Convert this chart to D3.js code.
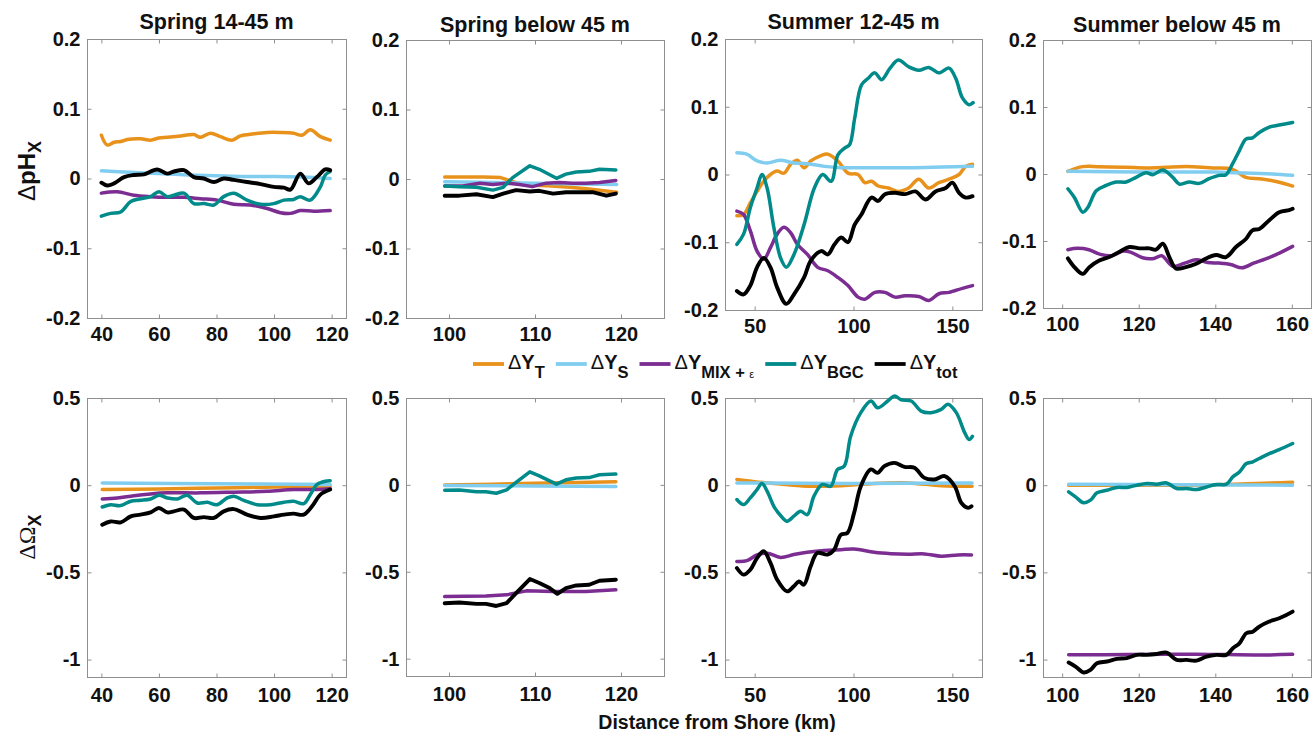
<!DOCTYPE html>
<html>
<head>
<meta charset="utf-8">
<script src="https://cdn.jsdelivr.net/npm/d3@7"></script>
<style>
  html, body { margin: 0; padding: 0; background: #fff; }
  svg { display: block; }
  text { font-family: "Liberation Sans", Arial, Helvetica, sans-serif; }
</style>
</head>
<body>
<svg id="chart" width="1313" height="732"></svg>
<script>
// ---------------- DATA ----------------
const panelTitles = ["Spring 14-45 m", "Spring below 45 m", "Summer 12-45 m", "Summer below 45 m"];
const seriesNames = ["T", "S", "MIX + \u03B5", "BGC", "tot"];
const xTicksA = [40, 60, 80, 100, 120];
const xTicksB = [100, 110, 120];
const xTicksC = [50, 100, 150];
const xTicksD = [100, 120, 140, 160];
const yTicksPH = [-0.2, -0.1, 0, 0.1, 0.2];
const yTickLabelsPH = ["-0.2", "-0.1", "0", "0.1", "0.2"];
const yTicksOM = [-1, -0.5, 0, 0.5];
const yTickLabelsOM = ["-1", "-0.5", "0", "0.5"];
const xAxisTitle = "Distance from Shore (km)";

// Spring 14-45 m, pH
const sprShPH_T = [[40,0.062],[42,0.048],[44.4,0.052],[46.7,0.053],[49,0.056],[53.6,0.057],[57.1,0.055],[60,0.058],[62.9,0.059],[67.5,0.061],[72.1,0.063],[74.4,0.059],[77.9,0.065],[81.4,0.06],[85.4,0.055],[88.3,0.061],[93,0.064],[97.6,0.066],[102.2,0.066],[106.8,0.065],[109.7,0.062],[112.6,0.07],[116.1,0.06],[119.5,0.055]];
const sprShPH_S = [[40,0.011],[50,0.009],[60,0.007],[70,0.005],[80,0.004],[90,0.003],[100,0.003],[110,0.002],[119.5,0.0]];
const sprShPH_MIX = [[40,-0.021],[45.5,-0.019],[51.3,-0.024],[57.1,-0.026],[62.9,-0.027],[68.7,-0.027],[74.4,-0.029],[80.2,-0.031],[86,-0.037],[91.8,-0.038],[97.6,-0.043],[102.2,-0.049],[105.7,-0.05],[109.1,-0.046],[113.8,-0.047],[119.5,-0.046]];
const sprShPH_BGC = [[40,-0.054],[43.2,-0.05],[46.7,-0.048],[50.2,-0.033],[53.6,-0.029],[57.1,-0.026],[60,-0.019],[62.9,-0.026],[65.2,-0.024],[68.7,-0.021],[72.1,-0.036],[75.6,-0.036],[79.1,-0.038],[82.5,-0.026],[86,-0.021],[90.6,-0.031],[95.3,-0.037],[99.9,-0.036],[103.4,-0.031],[106.8,-0.03],[109.1,-0.026],[112.6,-0.031],[116.1,-0.012],[117.8,0.005],[119.5,0.01]];
const sprShPH_tot = [[40,-0.006],[42,-0.01],[44.4,-0.007],[47.9,0.002],[51.3,0.005],[54.8,0.006],[59.4,0.013],[62.9,0.007],[65.2,0.01],[68.7,0.012],[72.1,0.002],[75.6,0],[79.1,-0.005],[82.5,0],[86,-0.002],[90.6,-0.005],[95.3,-0.008],[99.9,-0.012],[103.4,-0.013],[105.7,-0.016],[109.1,0.007],[112,-0.007],[114.9,0.002],[117.8,0.013],[119.5,0.012]];

// Spring below 45 m, pH
const sprDpPH_T = [[99.5,0.003],[102,0.003],[104,0.003],[106,0.002],[107,-0.002],[108,-0.006],[110,-0.009],[112,-0.01],[114,-0.012],[116,-0.014],[118,-0.017],[119.5,-0.019]];
const sprDpPH_S = [[99.5,-0.004],[110,-0.006],[119.5,-0.008]];
const sprDpPH_MIX = [[99.5,-0.01],[101.6,-0.01],[103.6,-0.006],[105.1,-0.008],[106.7,-0.006],[108.2,-0.008],[109.7,-0.011],[111.3,-0.006],[112.8,-0.005],[114.4,-0.006],[115.9,-0.006],[117.5,-0.005],[119.4,-0.002]];
const sprDpPH_BGC = [[99.5,-0.01],[101.2,-0.011],[103.2,-0.012],[105.1,-0.016],[106.3,-0.012],[107.4,0.002],[109.4,0.019],[110.5,0.014],[112.5,0.001],[113.6,0.007],[114.8,0.01],[116.3,0.011],[117.5,0.014],[119.4,0.013]];
const sprDpPH_tot = [[99.5,-0.024],[101.2,-0.024],[103.2,-0.022],[105.1,-0.026],[106.3,-0.021],[107.8,-0.016],[109.4,-0.018],[110.5,-0.017],[112.1,-0.021],[113.6,-0.019],[115.2,-0.019],[116.7,-0.019],[118.3,-0.024],[119.4,-0.021]];

// Summer 12-45 m, pH
const sumShPH_T = [[41,-0.061],[44.4,-0.059],[47.8,-0.042],[51.2,-0.025],[54.6,-0.01],[58,0],[61.4,0.005],[64.8,0.002],[68.2,0.015],[71.6,0.021],[75,0.01],[78.4,0.02],[83.6,0.028],[87,0.03],[92.1,0.02],[97.2,0.002],[102.3,0],[105.7,-0.012],[109.1,-0.01],[112.5,-0.017],[117.6,-0.02],[122.7,-0.025],[127.9,-0.02],[133,-0.007],[138.1,-0.02],[143.2,-0.012],[148.3,-0.007],[153.4,0],[156.8,0.012],[160.2,0.015]];
const sumShPH_S = [[41,0.032],[46,0.03],[51.2,0.02],[56.3,0.017],[63.1,0.021],[69.9,0.017],[76.7,0.016],[85.3,0.012],[93.8,0.01],[110.8,0.01],[127.9,0.01],[144.9,0.011],[160.2,0.012]];
const sumShPH_MIX = [[41,-0.054],[44.4,-0.059],[47.8,-0.083],[51.2,-0.113],[54.6,-0.125],[58,-0.108],[61.4,-0.088],[64.8,-0.078],[68.2,-0.086],[71.6,-0.103],[76.7,-0.118],[81.9,-0.137],[87,-0.142],[92.1,-0.152],[97.2,-0.164],[102.3,-0.181],[105.7,-0.184],[110.8,-0.174],[115.9,-0.174],[121,-0.181],[126.1,-0.179],[133,-0.18],[138.1,-0.186],[143.2,-0.176],[148.3,-0.174],[155.1,-0.168],[160.2,-0.164]];
const sumShPH_BGC = [[41,-0.103],[44.4,-0.088],[47.8,-0.049],[51.2,-0.02],[53.7,0],[56.3,-0.02],[59.7,-0.078],[63.1,-0.123],[66,-0.137],[69.9,-0.118],[75,-0.074],[80.2,-0.02],[84.4,0],[88.7,-0.01],[92.1,0.029],[95.5,0.039],[98,0.044],[100.6,0.083],[104,0.132],[107.4,0.142],[110.8,0.15],[114.2,0.14],[118.5,0.157],[122.7,0.169],[127.9,0.159],[133,0.154],[138.1,0.158],[143.2,0.15],[148.3,0.157],[151.7,0.142],[155.1,0.113],[158.5,0.103],[160.5,0.106]];
const sumShPH_tot = [[41,-0.172],[44.4,-0.177],[47.8,-0.164],[51.2,-0.137],[54.6,-0.123],[58,-0.137],[61.4,-0.167],[66,-0.191],[69.9,-0.177],[75,-0.152],[78.4,-0.127],[83.6,-0.113],[87,-0.118],[90.4,-0.103],[93.8,-0.093],[97.2,-0.1],[100.6,-0.074],[104,-0.059],[109.1,-0.034],[112.5,-0.039],[115.9,-0.029],[121,-0.027],[126.1,-0.029],[131.3,-0.025],[136.4,-0.037],[141.5,-0.025],[146.6,-0.02],[150,-0.012],[153.4,-0.027],[156.8,-0.034],[160.2,-0.032]];

// Summer below 45 m, pH
const sumDpPH_T = [[101.5,0.004],[105.4,0.011],[109.7,0.011],[116.7,0.01],[121.9,0.009],[127.1,0.01],[130.6,0.011],[134.1,0.011],[139.3,0.009],[144.5,0.007],[148,-0.005],[151.5,-0.007],[155,-0.01],[158.4,-0.015],[160.2,-0.018]];
const sumDpPH_S = [[101.5,0.004],[120,0.003],[140,0.003],[145,0.002],[150,0.001],[155,0],[160.2,-0.002]];
const sumDpPH_MIX = [[101.5,-0.113],[104,-0.111],[107,-0.113],[110,-0.12],[113,-0.122],[116,-0.115],[118,-0.117],[121,-0.125],[124,-0.126],[126,-0.122],[129,-0.138],[132,-0.133],[135,-0.128],[138,-0.132],[141,-0.133],[144,-0.135],[147,-0.14],[150,-0.133],[153,-0.127],[156,-0.12],[160.2,-0.108]];
const sumDpPH_BGC = [[101.5,-0.022],[103.2,-0.035],[105.4,-0.057],[106.7,-0.05],[108.9,-0.025],[111.5,-0.017],[114.1,-0.012],[116.7,-0.012],[119.3,-0.005],[121.9,0.002],[123.7,-0.001],[126.3,0.006],[128.9,-0.005],[130.6,-0.015],[133.2,-0.012],[135.8,-0.014],[138.4,-0.007],[141,-0.002],[142.8,-0.001],[144.5,0.015],[146.3,0.035],[148,0.052],[149.7,0.054],[151.5,0.062],[154.1,0.07],[156.7,0.073],[160.2,0.077]];
const sumDpPH_tot = [[101.5,-0.126],[103.2,-0.139],[105.4,-0.149],[107.1,-0.139],[109.7,-0.129],[112.3,-0.124],[115,-0.116],[117.6,-0.109],[120.2,-0.111],[122.8,-0.111],[124.5,-0.113],[126.3,-0.104],[128,-0.124],[129.7,-0.141],[132.3,-0.139],[135,-0.134],[137.6,-0.126],[140.2,-0.121],[142.8,-0.124],[145.4,-0.109],[148,-0.097],[149.7,-0.084],[151.5,-0.082],[154.1,-0.069],[156.7,-0.057],[159.3,-0.054],[160.2,-0.052]];

// Spring 14-45 m, Omega
const sprShOM_T = [[40.3,-0.025],[60,-0.022],[80,-0.016],[100,-0.011],[119.5,-0.007]];
const sprShOM_S = [[40.3,0.012],[80,0.008],[119.5,0.004]];
const sprShOM_MIX = [[40.3,-0.079],[45.5,-0.074],[51.3,-0.06],[57.1,-0.05],[62.9,-0.044],[74.4,-0.044],[86,-0.04],[97.6,-0.035],[106.8,-0.025],[114.9,-0.025],[119.5,-0.021]];
const sprShOM_BGC = [[40.3,-0.125],[43.2,-0.112],[46.7,-0.117],[50.2,-0.092],[53.6,-0.087],[57.1,-0.079],[60,-0.058],[62.9,-0.073],[66.4,-0.079],[69.8,-0.058],[73.3,-0.102],[76.8,-0.098],[80.2,-0.112],[83.7,-0.073],[86,-0.063],[89.5,-0.087],[94.1,-0.112],[98.7,-0.112],[103.4,-0.098],[106.8,-0.092],[110.3,-0.106],[112.6,-0.054],[114.9,0.004],[117.8,0.023],[119.5,0.025]];
const sprShOM_tot = [[40.3,-0.227],[43.2,-0.208],[46.7,-0.213],[50.2,-0.179],[53.6,-0.169],[57.1,-0.156],[60,-0.131],[62.9,-0.156],[65.2,-0.15],[68.7,-0.14],[72.1,-0.188],[75.6,-0.183],[79.1,-0.188],[82.5,-0.15],[86,-0.137],[90.6,-0.169],[95.3,-0.188],[99.9,-0.179],[103.4,-0.169],[106.8,-0.163],[110.3,-0.169],[113.2,-0.121],[116.1,-0.054],[119.5,-0.025]];

// Spring below 45 m, Omega
const sprDpOM_T = [[99.5,0],[105,0.004],[110,0.01],[115,0.014],[119.4,0.018]];
const sprDpOM_S = [[99.5,-0.003],[110,-0.006],[119.4,-0.01]];
const sprDpOM_MIX = [[99.5,-0.643],[104.3,-0.639],[106.7,-0.633],[109,-0.61],[112.1,-0.614],[115.9,-0.614],[119.4,-0.604]];
const sprDpOM_BGC = [[99.5,-0.031],[101.2,-0.029],[103.2,-0.039],[104.3,-0.039],[105.5,-0.048],[106.7,-0.029],[107.8,0.014],[109.4,0.075],[110.5,0.052],[111.7,0.023],[112.5,0.004],[113.6,0.029],[114.8,0.039],[116.3,0.042],[117.5,0.058],[119.4,0.062]];
const sprDpOM_tot = [[99.5,-0.681],[101.2,-0.677],[103.2,-0.685],[104.3,-0.685],[105.5,-0.697],[106.7,-0.681],[107.8,-0.623],[109.4,-0.542],[110.5,-0.565],[111.7,-0.594],[112.6,-0.627],[113.6,-0.594],[114.8,-0.579],[116.3,-0.575],[117.5,-0.552],[119.4,-0.546]];

// Summer 12-45 m, Omega
const sumShOM_T = [[41,0.033],[50,0.02],[59.7,0.01],[76.6,-0.006],[93.6,-0.003],[110.5,0.01],[127.5,0.013],[144.4,-0.003],[160,-0.006]];
const sumShOM_S = [[41,0.013],[100,0.01],[160,0.013]];
const sumShOM_MIX = [[41,-0.437],[46.1,-0.433],[51.2,-0.4],[56.3,-0.39],[63.1,-0.414],[69.8,-0.398],[76.6,-0.385],[85.1,-0.374],[93.6,-0.37],[100.3,-0.366],[110.5,-0.385],[119,-0.393],[127.5,-0.396],[135.9,-0.394],[144.4,-0.408],[152.9,-0.4],[159.7,-0.4]];
const sumShOM_BGC = [[41,-0.082],[44.4,-0.111],[47.8,-0.073],[51.2,-0.025],[53.7,0.01],[56.3,-0.034],[59.7,-0.121],[63.1,-0.174],[66.4,-0.207],[69.8,-0.178],[73.2,-0.149],[76.6,-0.169],[80,-0.063],[84.2,0.004],[88.5,-0.006],[91.9,0.09],[95.3,0.109],[98.6,0.282],[103.7,0.416],[108.8,0.483],[112.2,0.444],[117.3,0.483],[120.7,0.512],[124.1,0.49],[129.2,0.483],[134.2,0.425],[139.3,0.416],[144.4,0.435],[147.8,0.464],[152,0.416],[156.3,0.3],[158.5,0.262],[160.2,0.28]];
const sumShOM_tot = [[41,-0.475],[44.4,-0.513],[47.8,-0.485],[51.2,-0.418],[54.6,-0.379],[58,-0.446],[61.4,-0.542],[66.4,-0.609],[69.8,-0.58],[72.4,-0.552],[74.9,-0.571],[78.3,-0.466],[81.7,-0.389],[86.8,-0.398],[90.2,-0.37],[93.6,-0.284],[96.9,-0.274],[100.3,-0.159],[103.7,-0.006],[108.8,0.09],[112.2,0.071],[115.6,0.109],[120.7,0.128],[125.8,0.105],[130.8,0.1],[135.9,0.042],[141,0.033],[146.1,0.052],[151.2,-0.006],[154.6,-0.102],[158,-0.13],[159.7,-0.121]];

// Summer below 45 m, Omega
const sumDpOM_T = [[101.7,0],[140,0.003],[160.2,0.017]];
const sumDpOM_S = [[101.7,0.006],[130,0.003],[160.2,0]];
const sumDpOM_MIX = [[101.7,-0.973],[117,-0.971],[135,-0.969],[152,-0.974],[160.2,-0.97]];
const sumDpOM_BGC = [[101.7,-0.038],[103.5,-0.067],[105.6,-0.101],[107.4,-0.086],[109.1,-0.044],[111.7,-0.029],[114.3,-0.013],[116.9,-0.013],[119.5,0],[122.1,0.01],[124.7,0.006],[127.3,0.013],[129.9,-0.019],[132.5,-0.019],[135.1,-0.025],[137.7,-0.01],[140.3,0.004],[142.9,0.006],[144.6,0.048],[146.3,0.076],[148.1,0.124],[149.8,0.134],[151.5,0.153],[154.1,0.181],[156.7,0.204],[160.2,0.239]];
const sumDpOM_tot = [[101.7,-1.017],[103.5,-1.04],[105.6,-1.074],[107.4,-1.059],[109.1,-1.021],[111.7,-1.011],[114.3,-0.996],[116.9,-0.992],[119.5,-0.973],[122.1,-0.973],[124.7,-0.968],[127.3,-0.96],[129.9,-1.002],[132.5,-1.002],[135.1,-1.006],[137.7,-0.983],[140.3,-0.973],[142.9,-0.973],[144.6,-0.935],[146.3,-0.907],[148.1,-0.849],[149.8,-0.84],[151.5,-0.811],[154.1,-0.782],[156.7,-0.763],[160.2,-0.725]];

// ---------------- STYLE / LAYOUT ----------------
const colors = ["#E8921B", "#80CDF0", "#7B2D92", "#008A8A", "#000000"];
const svg = d3.select("#chart");

const colLayout = [
  { x0: 87,   x1: 346,  dom: [35, 125], ticks: xTicksA, curve: d3.curveCatmullRom.alpha(0.5) },
  { x0: 406,  x1: 664,  dom: [95, 125], ticks: xTicksB, curve: d3.curveLinear },
  { x0: 725,  x1: 982,  dom: [35, 165], ticks: xTicksC, curve: d3.curveCatmullRom.alpha(0.5) },
  { x0: 1043, x1: 1311, dom: [95, 165], ticks: xTicksD, curve: d3.curveCatmullRom.alpha(0.5) }
];
const topRowY = [[39, 318], [40, 318], [39, 310], [40, 308]];
const botRowY = [[398, 677], [398, 676], [398, 677], [398, 677]];
const titleBaselines = [29, 32, 29, 32];

const panels = [
  { col: 0, row: 0, data: [sprShPH_T, sprShPH_S, sprShPH_MIX, sprShPH_BGC, sprShPH_tot] },
  { col: 1, row: 0, data: [sprDpPH_T, sprDpPH_S, sprDpPH_MIX, sprDpPH_BGC, sprDpPH_tot] },
  { col: 2, row: 0, data: [sumShPH_T, sumShPH_S, sumShPH_MIX, sumShPH_BGC, sumShPH_tot] },
  { col: 3, row: 0, data: [sumDpPH_T, sumDpPH_S, sumDpPH_MIX, sumDpPH_BGC, sumDpPH_tot] },
  { col: 0, row: 1, data: [sprShOM_T, sprShOM_S, sprShOM_MIX, sprShOM_BGC, sprShOM_tot] },
  { col: 1, row: 1, data: [sprDpOM_T, sprDpOM_S, sprDpOM_MIX, sprDpOM_BGC, sprDpOM_tot] },
  { col: 2, row: 1, data: [sumShOM_T, sumShOM_S, sumShOM_MIX, sumShOM_BGC, sumShOM_tot] },
  { col: 3, row: 1, data: [sumDpOM_T, sumDpOM_S, sumDpOM_MIX, sumDpOM_BGC, sumDpOM_tot] }
];

const boxColor = "#8f8f8f";
const tickLen = 4;

panels.forEach(p => {
  const c = colLayout[p.col];
  const yr = p.row === 0 ? topRowY[p.col] : botRowY[p.col];
  const x = d3.scaleLinear().domain(c.dom).range([c.x0, c.x1]);
  const y = d3.scaleLinear().domain(p.row === 0 ? [-0.2, 0.2] : [-1.1, 0.5]).range([yr[1], yr[0]]);
  const yT = p.row === 0 ? yTicksPH : yTicksOM;
  const yL = p.row === 0 ? yTickLabelsPH : yTickLabelsOM;
  const g = svg.append("g");
  const w = c.x1 - c.x0, h = yr[1] - yr[0];

  g.append("rect").attr("x", c.x0 + 0.5).attr("y", yr[0] + 0.5).attr("width", w).attr("height", h)
    .attr("fill", "none").attr("stroke", boxColor).attr("stroke-width", 1);

  const axB = d3.axisBottom(x).tickValues(c.ticks).tickSizeInner(-tickLen).tickSizeOuter(0).tickFormat(d => d);
  const axT = d3.axisTop(x).tickValues(c.ticks).tickSizeInner(-tickLen).tickSizeOuter(0).tickFormat("");
  const axL = d3.axisLeft(y).tickValues(yT).tickSizeInner(-tickLen).tickSizeOuter(0).tickFormat((d, i) => yL[i]);
  const axR = d3.axisRight(y).tickValues(yT).tickSizeInner(-tickLen).tickSizeOuter(0).tickFormat("");

  const styleAxis = (sel) => {
    sel.select(".domain").remove();
    sel.selectAll(".tick line").attr("stroke", boxColor);
    sel.selectAll(".tick text").attr("fill", "#111").attr("font-size", 20).attr("font-weight", "bold")
      .attr("font-family", "'Liberation Sans', Arial, sans-serif");
  };
  g.append("g").attr("transform", `translate(0,${yr[1] + 0.5})`).call(axB).call(styleAxis)
    .selectAll(".tick text").attr("y", p.row === 0 ? 8 : 10).attr("dy", "0.71em");
  g.append("g").attr("transform", `translate(0,${yr[0] + 0.5})`).call(axT).call(styleAxis);
  g.append("g").attr("transform", `translate(${c.x0 + 0.5},0)`).call(axL).call(styleAxis)
    .selectAll(".tick text").attr("x", -7);
  g.append("g").attr("transform", `translate(${c.x1 + 0.5},0)`).call(axR).call(styleAxis);

  const line = d3.line().x(d => x(d[0])).y(d => y(d[1])).curve(c.curve);
  p.data.forEach((s, i) => {
    g.append("path").datum(s).attr("d", line).attr("fill", "none")
      .attr("stroke", colors[i]).attr("stroke-width", i === 4 ? 3.9 : 3.5)
      .attr("stroke-linejoin", "round").attr("stroke-linecap", "round");
  });

  if (p.row === 0) {
    svg.append("text").attr("x", (c.x0 + c.x1) / 2).attr("y", titleBaselines[p.col])
      .attr("text-anchor", "middle").attr("font-size", 21.5).attr("font-weight", "bold").attr("fill", "#111")
      .text(panelTitles[p.col]);
  }
});

// y axis labels
const ylab1 = svg.append("text").attr("transform", "translate(35,171) rotate(-90)")
  .attr("text-anchor", "middle").attr("font-size", 24).attr("fill", "#111");
ylab1.append("tspan").attr("font-weight", "normal").text("\u0394");
ylab1.append("tspan").attr("font-weight", "bold").text("pH");
ylab1.append("tspan").attr("font-weight", "bold").attr("font-size", 18).attr("dy", 6).text("X");

const ylab2 = svg.append("text").attr("transform", "translate(35,537) rotate(-90)")
  .attr("text-anchor", "middle").attr("font-size", 24).attr("fill", "#111");
ylab2.append("tspan").attr("font-weight", "normal").attr("font-family", "'Liberation Serif', serif").text("\u0394\u03A9");
ylab2.append("tspan").attr("font-weight", "bold").attr("font-size", 18).attr("dy", 6).text("X");

// x axis title
svg.append("text").attr("x", 717).attr("y", 729).attr("text-anchor", "middle")
  .attr("font-size", 19.5).attr("font-weight", "bold").attr("fill", "#111").text(xAxisTitle);

// legend
const legY = 364;
let lx = 473;
seriesNames.forEach((name, i) => {
  svg.append("line").attr("x1", lx).attr("x2", lx + 31).attr("y1", legY).attr("y2", legY)
    .attr("stroke", colors[i]).attr("stroke-width", 3.8);
  const t = svg.append("text").attr("x", lx + 35).attr("y", legY + 5).attr("font-size", 20).attr("fill", "#111");
  t.append("tspan").attr("font-weight", "normal").text("\u0394");
  t.append("tspan").attr("font-weight", "bold").text("Y");
  if (i === 2) {
    t.append("tspan").attr("font-weight", "bold").attr("font-size", 16.5).attr("dy", 9).text("MIX + ");
    t.append("tspan").attr("font-weight", "normal").attr("font-size", 11).text("\u03B5");
  } else {
    t.append("tspan").attr("font-weight", "bold").attr("font-size", 16.5).attr("dy", 9).text(name);
  }
  const tw = t.node().getComputedTextLength();
  lx = lx + 35 + tw + 11;
});
</script>
</body>
</html>
